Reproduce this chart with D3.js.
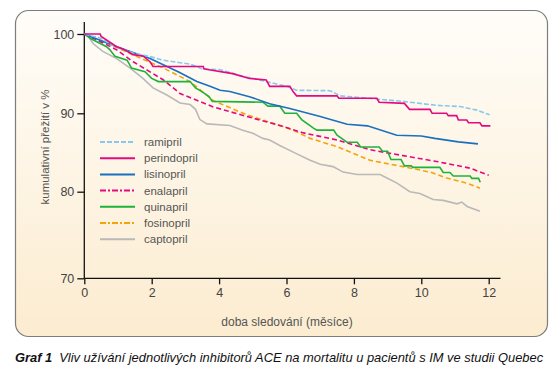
<!DOCTYPE html>
<html>
<head>
<meta charset="utf-8">
<script src="https://cdn.jsdelivr.net/npm/d3@7"></script>
<style>
  body { margin: 0; background: #fff; }
  svg { display: block; font-family: "Liberation Sans", Arial, sans-serif; }
</style>
</head>
<body>
<script>
// hodnoty: [měsíc, kumulativní přežití %]
const ramipril = [[0,100],[0.47,99.5],[0.96,98.3],[1.45,97.6],[1.9,97.2],[2.35,96.7],[2.8,96.4],[3.14,96.2],[3.5,95.6],[4.03,95.5],[4.6,94.8],[5.2,94.2],[5.8,93.6],[6.0,93.4],[6.3,92.9],[7.29,92.85],[7.6,92.2],[8.68,91.8],[9.46,91.5],[10.46,91.0],[11.15,90.85],[11.65,90.4],[12.03,89.8]];
const perindopril = [[0,100],[0.47,100],[0.5,99.7],[0.96,98.4],[1.15,98.1],[1.45,97.4],[1.75,97.2],[1.95,96.5],[2.04,95.9],[3.53,95.9],[3.55,95.6],[3.7,95.5],[4.4,95.0],[4.9,94.4],[5.4,94.2],[5.5,93.4],[6.1,93.4],[6.2,92.7],[6.3,92.2],[7.5,92.2],[7.55,91.9],[8.68,91.9],[8.75,91.4],[9.5,91.25],[9.65,90.5],[10.26,90.5],[10.32,90.0],[10.75,90.0],[10.8,89.7],[11.05,89.7],[11.1,89.15],[11.35,89.15],[11.4,88.8],[11.74,88.8],[11.8,88.4],[12.05,88.4]];
const lisinopril = [[0,100],[0.96,98.4],[1.95,96.9],[2.8,95.2],[3.34,94.0],[3.73,93.4],[4.03,92.9],[4.32,92.75],[4.9,92.1],[5.5,91.2],[6.1,90.6],[7.0,89.6],[7.8,88.6],[8.4,88.4],[9.27,87.2],[10.0,87.1],[10.4,86.8],[11.1,86.35],[11.68,86.1]];
const enalapril = [[0,100],[0.5,99.0],[0.96,98.0],[1.45,96.5],[2.35,94.2],[2.84,92.5],[3.83,90.8],[4.82,89.6],[5.8,88.45],[6.5,87.5],[7.5,86.6],[8.48,85.35],[9.46,84.6],[10.46,83.85],[11.45,83.0],[12.0,82.1]];
const quinapril = [[0,100],[0.2,99.4],[0.66,98.4],[0.76,98.0],[0.91,97.2],[1.27,96.7],[1.4,95.7],[1.8,95.25],[2.0,94.4],[2.2,94.0],[3.14,94.0],[3.3,93.2],[3.5,92.7],[3.7,92.1],[3.8,91.5],[5.3,91.4],[5.45,90.9],[5.8,90.9],[5.95,90.0],[6.3,90.0],[6.45,89.2],[6.8,88.1],[6.9,87.85],[7.4,87.85],[7.5,87.2],[7.7,86.6],[7.8,86.3],[8.1,86.3],[8.2,85.7],[8.75,85.7],[8.85,85.15],[9.0,85.15],[9.1,84.1],[9.4,84.1],[9.5,83.3],[9.7,83.3],[9.75,83.1],[10.55,83.1],[10.65,82.45],[10.85,82.45],[10.95,82.0],[11.45,82.0],[11.5,81.7],[11.7,81.7],[11.75,81.2]];
const fosinopril = [[0,100],[0.47,99.2],[0.96,98.3],[1.45,97.35],[2.35,95.7],[3.14,94.0],[3.83,91.6],[4.82,89.8],[5.8,88.45],[6.2,87.85],[6.7,86.8],[7.5,85.75],[8.48,84.0],[9.46,83.2],[10.26,82.5],[10.75,81.75],[11.35,81.1],[11.74,80.45]];
const captopril = [[0,100],[0.07,100],[0.26,98.8],[0.55,97.8],[0.96,96.9],[1.36,95.7],[1.74,94.4],[2.04,93.2],[2.45,92.3],[2.84,91.3],[3.14,91.1],[3.3,90.5],[3.43,89.2],[3.64,88.65],[4.32,88.45],[4.7,87.85],[5.0,87.45],[5.3,86.8],[5.5,86.6],[5.8,85.9],[6.2,85.05],[6.7,84.0],[7.0,83.5],[7.38,83.2],[7.68,82.5],[8.1,82.2],[8.78,82.2],[8.98,81.75],[9.28,81.1],[9.66,80.0],[9.96,79.8],[10.35,79.1],[10.65,79.0],[11.06,78.6],[11.2,78.8],[11.36,78.3],[11.74,77.75]];

const seriesNames = ["ramipril","perindopril","lisinopril","enalapril","quinapril","fosinopril","captopril"];
const seriesValues = [ramipril, perindopril, lisinopril, enalapril, quinapril, fosinopril, captopril];
const xTicks = [0,2,4,6,8,10,12];
const yTicks = [70,80,90,100];

const colors = ["#86c9ec","#e4097f","#1a6fbf","#e4097f","#1fb23a","#f4a40a","#b9b9b9"];
const dashes = ["5,2", null, null, "5,3", null, "5,3", null];
const legendDash = ["5,2", null, null, "6,2,2,2", null, "6,2,2,2", null];

const W = 559, H = 376;
const svg = d3.select("body").append("svg").attr("width", W).attr("height", H);

const defs = svg.append("defs");
const grad = defs.append("linearGradient").attr("id","bg").attr("x1",0).attr("y1",0).attr("x2",0).attr("y2",1);
grad.append("stop").attr("offset","0%").attr("stop-color","#fffdf9");
grad.append("stop").attr("offset","100%").attr("stop-color","#fcecd0");

svg.append("rect")
  .attr("x", 15.5).attr("y", 10.5).attr("width", 532).attr("height", 326)
  .attr("rx", 13)
  .attr("fill", "url(#bg)").attr("stroke", "#7d7d7d").attr("stroke-width", 1.2);

const x = d3.scaleLinear().domain([0, 12]).range([84.3, 488.7]);
// osa y na předloze není úplně rovnoměrná
const y = d3.scaleLinear().domain([70, 80, 90, 100]).range([278.3, 191.7, 113.3, 34]);

// osy
const xAxis = svg.append("g")
  .attr("transform", "translate(0,278.3)")
  .call(d3.axisBottom(x).tickValues(xTicks).tickSize(6).tickSizeOuter(0).tickPadding(4));
xAxis.select(".domain").attr("d", "M84.3,0H500.5");

const yAxis = svg.append("g")
  .attr("transform", "translate(84.3,0)")
  .call(d3.axisLeft(y).tickValues(yTicks).tickSize(7).tickSizeOuter(0).tickPadding(3));
yAxis.select(".domain").attr("d", "M0,22V278.3");

svg.selectAll(".domain, .tick line").attr("stroke", "#111").attr("stroke-width", 1.3);
svg.selectAll(".tick text")
  .attr("font-size", 12.5).attr("fill", "#444")
  .attr("font-family", "\"Liberation Sans\", Arial, sans-serif");

// popisky os
svg.append("text")
  .attr("x", 287).attr("y", 326)
  .attr("text-anchor", "middle").attr("font-size", 12).attr("fill", "#555")
  .text("doba sledování (měsíce)");

svg.append("text")
  .attr("transform", "translate(49,147) rotate(-90)")
  .attr("text-anchor", "middle").attr("font-size", 11.5).attr("fill", "#555")
  .text("kumulativní přežití v %");

// křivky
const line = d3.line().x(d => x(d[0])).y(d => y(d[1]));
const order = [6, 5, 3, 4, 2, 0, 1];
order.forEach(i => {
  svg.append("path")
    .datum(seriesValues[i])
    .attr("d", line)
    .attr("fill", "none")
    .attr("stroke", colors[i])
    .attr("stroke-width", 1.6)
    .attr("stroke-dasharray", dashes[i]);
});

// legenda
const legend = svg.append("g");
seriesNames.forEach((name, i) => {
  const ly = 142 + i * 16.2;
  legend.append("line")
    .attr("x1", 100).attr("x2", 135).attr("y1", ly).attr("y2", ly)
    .attr("stroke", colors[i]).attr("stroke-width", 2)
    .attr("stroke-dasharray", legendDash[i]);
  legend.append("text")
    .attr("x", 144).attr("y", ly + 4)
    .attr("font-size", 11.5).attr("fill", "#555")
    .text(name);
});

// titulek
const cap = svg.append("text").attr("x", 15).attr("y", 362).attr("font-size", 12.9).attr("font-style", "italic").attr("fill", "#111");
cap.append("tspan").attr("font-weight", "bold").text("Graf 1");
cap.append("tspan").attr("dx", 7).text("Vliv užívání jednotlivých inhibitorů ACE na mortalitu u pacientů s IM ve studii Quebec");
</script>
</body>
</html>
